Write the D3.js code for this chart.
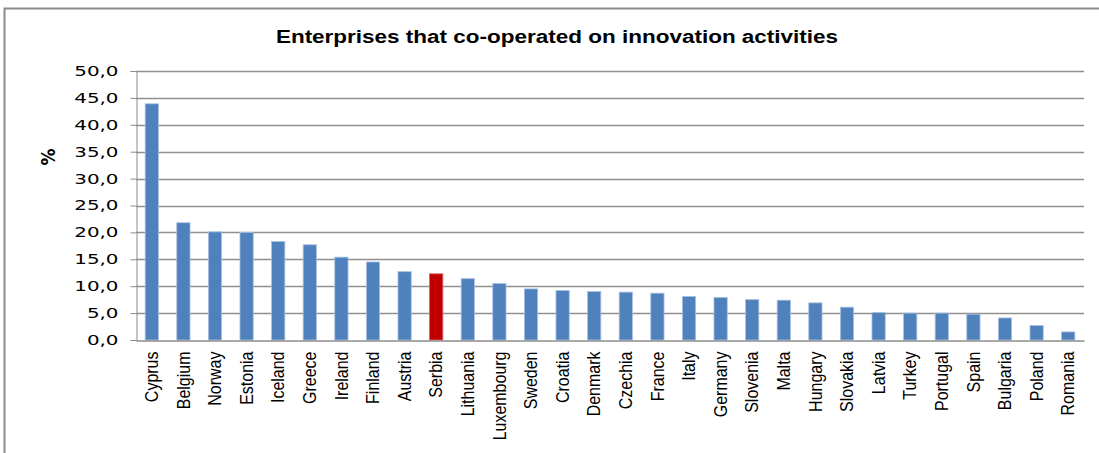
<!DOCTYPE html>
<html>
<head>
<meta charset="utf-8">
<script src="https://cdn.jsdelivr.net/npm/d3@7"></script>
<style>
  html, body { margin: 0; padding: 0; background: #fff; }
  svg { display: block; }
</style>
</head>
<body>
<svg id="chart" width="1099" height="453"></svg>
<script>
// Share of enterprises that co-operated on innovation activities, by country (%)
const countries = ["Cyprus","Belgium","Norway","Estonia","Iceland","Greece","Ireland","Finland","Austria","Serbia",
  "Lithuania","Luxembourg","Sweden","Croatia","Denmark","Czechia","France","Italy","Germany","Slovenia",
  "Malta","Hungary","Slovakia","Latvia","Turkey","Portugal","Spain","Bulgaria","Poland","Romania"];
const values = [43.9, 21.8, 20.1, 20.0, 18.3, 17.7, 15.4, 14.5, 12.7, 12.3,
  11.4, 10.5, 9.5, 9.2, 9.0, 8.9, 8.7, 8.1, 7.9, 7.5,
  7.4, 6.9, 6.1, 5.1, 5.0, 5.0, 4.8, 4.1, 2.7, 1.5];
const yTicks = [0, 5, 10, 15, 20, 25, 30, 35, 40, 45, 50];
const highlight = "Serbia";

const data = countries.map((c, i) => ({ country: c, value: values[i] }));

const svg = d3.select("#chart");
const W = 1099, H = 453;
const m = { left: 136, right: 15, top: 71, bottom: 113 };
const wide = 1.25; // horizontal widening of the title lettering

// chart frame
svg.append("path")
  .attr("d", `M4.5,${H} L4.5,8.5 L${W},8.5`)
  .attr("fill", "none").attr("stroke", "#8c8c8c").attr("stroke-width", 2);

const x = d3.scaleBand().domain(countries).range([m.left, W - m.right]).paddingInner(0.58).paddingOuter(0.29);
const y = d3.scaleLinear().domain([0, 50]).range([H - m.bottom, m.top]);

// title
svg.append("text")
  .attr("transform", `translate(557,43) scale(${wide},1)`)
  .attr("text-anchor", "middle")
  .attr("font-family", "Liberation Sans, Arial, sans-serif")
  .attr("font-weight", "bold").attr("font-size", 18)
  .attr("fill", "#000")
  .text("Enterprises that co-operated on innovation activities");

// horizontal gridlines
svg.append("g")
  .selectAll("line").data(yTicks.filter(t => t > 0)).join("line")
  .attr("x1", m.left).attr("x2", W - m.right)
  .attr("y1", d => Math.round(y(d)) + 0.5).attr("y2", d => Math.round(y(d)) + 0.5)
  .attr("stroke", "#8f8f8f").attr("stroke-width", 1.3);

// y axis
const yAxis = svg.append("g")
  .attr("transform", `translate(${m.left + 0.5},0)`)
  .call(d3.axisLeft(y).tickValues(yTicks).tickSize(6).tickPadding(10)
    .tickFormat(d => d3.format(".1f")(d).replace(".", ",")));
yAxis.select(".domain").attr("stroke", "#8c8c8c");
yAxis.selectAll(".tick line").attr("stroke", "#8c8c8c");
yAxis.selectAll(".tick text")
  .attr("x", 0)
  .attr("transform", `translate(-18,0) scale(1.42,1)`)
  .attr("font-family", "DejaVu Sans, Verdana, sans-serif")
  .attr("font-size", 14).attr("fill", "#000");

// y axis title
svg.append("text")
  .attr("transform", "translate(55,157) scale(1.15,1) rotate(-90)")
  .attr("text-anchor", "middle")
  .attr("font-family", "DejaVu Sans, Verdana, sans-serif")
  .attr("font-weight", "bold").attr("font-size", 17)
  .text("%");

// bars
svg.append("g")
  .selectAll("rect").data(data).join("rect")
  .attr("x", d => x(d.country))
  .attr("width", x.bandwidth())
  .attr("y", d => y(d.value))
  .attr("height", d => y(0) - y(d.value))
  .attr("fill", d => d.country === highlight ? "#C00000" : "#4F81BD")
  .attr("stroke", d => d.country === highlight ? "#e06060" : "#a9c1e2")
  .attr("stroke-width", 0.8);

// x axis
const xAxis = svg.append("g")
  .attr("transform", `translate(0,${y(0) + 0.5})`)
  .call(d3.axisBottom(x).tickSize(0).tickPadding(0));
xAxis.select(".domain").attr("stroke", "#8c8c8c").attr("stroke-width", 1.5);
xAxis.selectAll(".tick text")
  .attr("font-family", "Liberation Sans, Arial, sans-serif")
  .attr("font-size", 16).attr("fill", "#000")
  .attr("text-anchor", "end")
  .attr("dy", "0.35em")
  .attr("transform", "translate(0,11) scale(1.1,1) rotate(-90)")
  .attr("x", 0).attr("y", 0);
</script>
</body>
</html>
